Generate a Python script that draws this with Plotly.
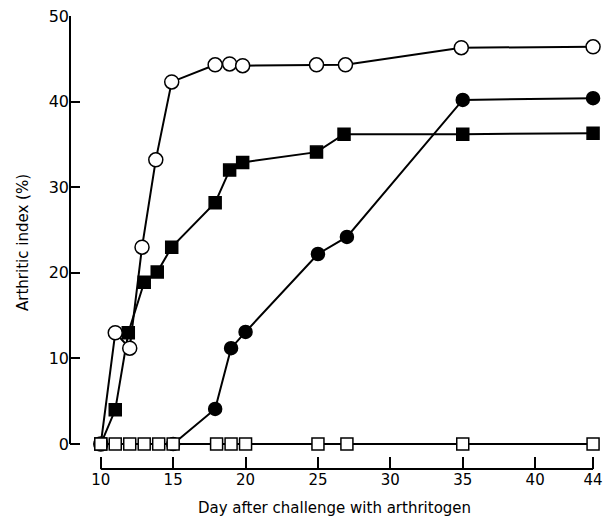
import plotly.graph_objects as go

# Data
open_circle_days = [10, 11, 12, 12.85, 13.8, 14.9, 17.9, 18.9, 19.8, 24.9, 26.9, 34.9, 44]
open_circle_vals = [0, 13.0, 11.2, 23.0, 33.2, 42.3, 44.3, 44.4, 44.2, 44.3, 44.3, 46.3, 46.4]

filled_square_days = [10, 11, 11.9, 13, 13.9, 14.9, 17.9, 18.9, 19.8, 24.9, 26.8, 35, 44]
filled_square_vals = [0, 4.0, 13.0, 18.9, 20.1, 23.0, 28.2, 32.0, 32.9, 34.1, 36.2, 36.2, 36.3]

filled_circle_days = [15, 17.9, 19.0, 20.0, 25, 27, 35, 44]
filled_circle_vals = [0, 4.1, 11.2, 13.1, 22.2, 24.2, 40.2, 40.4]

open_square_days = [10, 11, 12, 13, 14, 15, 18, 19, 20, 25, 27, 35, 44]
open_square_vals = [0, 0, 0, 0, 0, 0, 0, 0, 0, 0, 0, 0, 0]

x_tickvals = [10, 15, 20, 25, 30, 35, 40, 44]
x_ticktext = ["10", "15", "20", "25", "30", "35", "40", "44"]
y_tickvals = [0, 10, 20, 30, 40, 50]
y_ticktext = ["0", "10", "20", "30", "40", "50"]

FONT = "DejaVu Sans"

fig = go.Figure()

def add(xs, ys, symbol, fill, size):
    fig.add_trace(go.Scatter(
        x=xs, y=ys, mode="lines+markers",
        line=dict(color="black", width=2),
        marker=dict(symbol=symbol, size=size, color=fill,
                    line=dict(color="black", width=1.5)),
        cliponaxis=False, showlegend=False,
    ))

add(filled_circle_days, filled_circle_vals, "circle", "black", 13)
add(filled_square_days, filled_square_vals, "square", "black", 12)
add(open_circle_days, open_circle_vals, "circle", "white", 14)
add(open_square_days, open_square_vals, "square", "white", 12)

fig.update_layout(
    width=609, height=520,
    margin=dict(l=70, r=6, t=16, b=50),
    paper_bgcolor="white", plot_bgcolor="white",
    font=dict(family=FONT, color="black"),
    xaxis=dict(
        range=[7.875, 44.41], showgrid=False, zeroline=False, showline=False,
        tickvals=x_tickvals, ticktext=x_ticktext,
        ticks="inside", ticklen=12, tickwidth=1.5, tickcolor="black",
        tickfont=dict(size=15, family=FONT),
        title=dict(text="Day after challenge with arthritogen",
                   font=dict(size=15, family=FONT), standoff=14),
    ),
    yaxis=dict(
        range=[-2.914, 50], showgrid=False, zeroline=False, showline=False,
        tickvals=y_tickvals, ticktext=y_ticktext,
        ticks="inside", ticklen=10, tickwidth=1.5, tickcolor="black",
        tickfont=dict(size=16, family=FONT),
        title=dict(text="Arthritic index (%)",
                   font=dict(size=15, family=FONT), standoff=16),
    ),
    shapes=[
        dict(type="line", xref="x domain", yref="y", x0=0, x1=0, y0=0, y1=50,
             line=dict(color="black", width=2)),
        dict(type="line", xref="x", yref="y domain", x0=10, x1=44, y0=0, y1=0,
             line=dict(color="black", width=2)),
    ],
)

fig.write_html("out.html")
